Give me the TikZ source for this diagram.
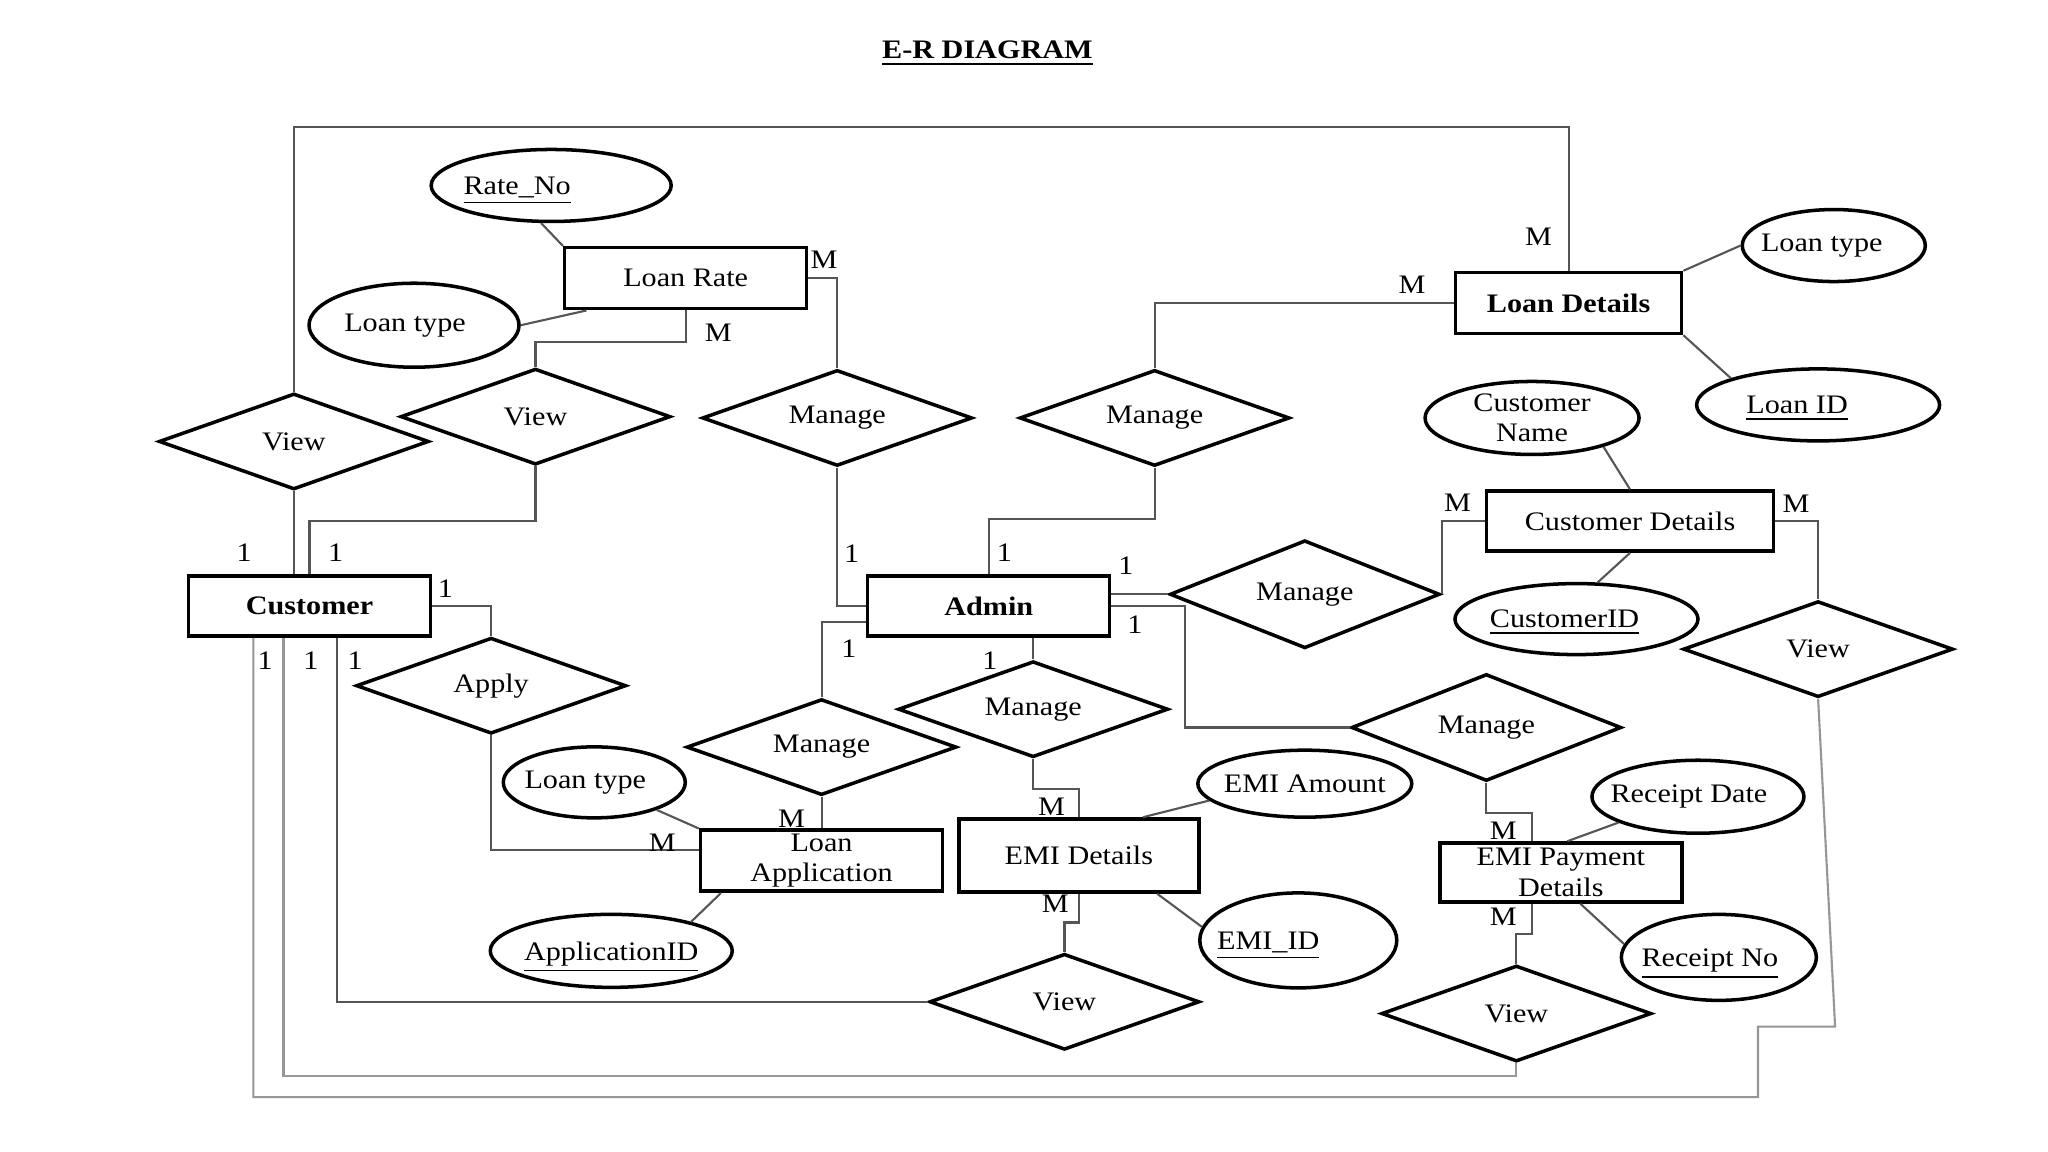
\documentclass[tikz,border=0pt]{standalone}
\usepackage{fontspec}
\setmainfont{Liberation Serif}[FakeStretch=1.13]
\usepackage{tikz}
\usetikzlibrary{shapes.geometric, calc}
\definecolor{erLine}{RGB}{85,85,85}
\definecolor{erFaint}{RGB}{150,150,150}
\tikzset{
    base/.style={
        font=\fontsize{7.6}{8.6}\selectfont,
        align=center,
        inner sep=0pt
    },
    entity/.style={
        base,
        rectangle,
        draw,
        line width=1pt,
        minimum width=2.42cm,
        minimum height=0.61cm
    },
    attrib/.style={
        base,
        ellipse,
        draw,
        line width=1pt,
        inner sep=-1.5pt,
        minimum width=2.1cm,
        minimum height=0.72cm
    },
    relation/.style={
        base,
        diamond,
        draw,
        line width=1pt,
        aspect=2.8,
        minimum width=2.7cm,
        minimum height=0.96cm
    },
    link/.style={
        draw=erLine,
        line width=0.6pt
    },
    faint/.style={
        draw=erFaint,
        line width=0.6pt
    },
    card/.style={
        base
    }
}
\newcommand{\erkey}[1]{\raisebox{0pt}[\height][0pt]{\underline{#1}}}
\newcommand{\erleft}[2]{\makebox[0pt]{#2\hspace*{#1}}}

\begin{document}
\begin{tikzpicture}[x=0.01306cm, y=-0.01306cm]
  \useasboundingbox (0,0) rectangle (1568,882);
  \fill[white] (0,0) rectangle (1568,882);

  % Title
  \node[base] (title) at (756,41) {\textbf{\underline{E-R DIAGRAM}}};

  % Entities
  \node[entity] (lrate) at (525,213) {Loan Rate};
  \node[entity, minimum width=2.26cm] (ldet) at (1201,232) {\textbf{Loan Details}};
  \node[entity, minimum width=2.87cm, minimum height=0.6cm] (cdet) at (1248,399) {Customer Details};
  \node[entity, minimum height=0.6cm] (cust) at (237,464) {\textbf{Customer}};
  \node[entity, minimum height=0.6cm] (admin) at (757,464) {\textbf{Admin}};
  \node[entity] (lapp) at (629,659) {Loan\\Application};
  \node[entity, minimum width=2.4cm, minimum height=0.73cm] (emi) at (826,655) {EMI Details};
  \node[entity, minimum height=0.59cm] (epay) at (1195,668) {EMI Payment\\Details};

  % Attributes
  \node[attrib, minimum width=2.4cm] (rateno) at (422,142) {\erleft{0.68cm}{\erkey{Rate\_No}}};
  \node[attrib, minimum height=0.84cm] (ltr) at (317,249) {\erleft{0.18cm}{Loan type}};
  \node[attrib, minimum width=1.83cm] (ltd) at (1404,188) {\erleft{0.24cm}{Loan type}};
  \node[attrib, minimum width=2.43cm] (lid) at (1392,310) {\erleft{0.42cm}{\erkey{Loan ID}}};
  \node[attrib, minimum width=2.14cm, minimum height=0.73cm] (cname) at (1173,320) {Customer\\Name};
  \node[attrib, minimum width=2.43cm, minimum height=0.71cm] (cid) at (1207,474) {\erleft{0.24cm}{\erkey{CustomerID}}};
  \node[attrib, minimum width=1.82cm, minimum height=0.71cm] (lta) at (455,599) {\erleft{0.18cm}{Loan type}};
  \node[attrib, minimum width=2.42cm, minimum height=0.73cm] (aid) at (468,728) {\erkey{ApplicationID}};
  \node[attrib, minimum width=2.12cm, minimum height=0.67cm] (eamt) at (999,600) {EMI Amount};
  \node[attrib, minimum width=1.97cm, minimum height=0.95cm] (eid) at (994,720) {\erleft{0.6cm}{\erkey{EMI\_ID}}};
  \node[attrib, minimum width=2.12cm, minimum height=0.73cm] (rdate) at (1300,610) {\erleft{0.18cm}{Receipt Date}};
  \node[attrib, minimum width=1.95cm, minimum height=0.86cm] (rcpt) at (1316,733) {\erleft{0.18cm}{\erkey{Receipt No}}};

  % Relationships
  \node[relation] (vleft) at (225,338) {View};
  \node[relation] (vlr) at (410,319) {View};
  \node[relation] (mlr) at (641,320) {Manage};
  \node[relation] (mld) at (884,320) {Manage};
  \node[relation, minimum height=1.08cm] (mcd) at (999,455) {Manage};
  \node[relation] (vcd) at (1392,497) {View};
  \node[relation] (apply) at (376,525) {Apply};
  \node[relation] (mla) at (629,572) {Manage};
  \node[relation] (mem) at (791,543) {Manage};
  \node[relation, minimum height=1.07cm] (mep) at (1138,557) {Manage};
  \node[relation] (vem) at (815,767) {View};
  \node[relation] (vep) at (1161,776) {View};

  % Attribute links
  \draw[link] (rateno.255) -- (lrate.north west);
  \draw[link] (ltr.east) -- ($(lrate.south west)+(18,0)$);
  \draw[link] (ldet.north east) -- (ltd.west);
  \draw[link] (ldet.south east) -- (lid.163);
  \draw[link] (cname.-22) -- (cdet.north);
  \draw[link] (cdet.south) -- (cid.60);
  \draw[link] (lta) -- (lapp.north west);
  \draw[link] ($(lapp.south west)+(17,0)$) -- (aid.20);
  \draw[link] (eamt.190) -- ($(emi.north)+(49,0)$);
  \draw[link] ($(emi.south)+(60,0)$) -- (eid.172);
  \draw[link] (rdate.198) -- ($(epay.north)+(5,0)$);
  \draw[link] ($(epay.south)+(15,0)$) -- (rcpt.172);

  % Relationship links
  \coordinate (loopTop) at (700,97);
  \draw[link] (vleft.north) |- (loopTop) -| (ldet.north);
  \draw[link] (lrate.south) -- ++(0,24) -| (vlr.north);
  \draw[link] (lrate.east) -| (mlr.north);
  \draw[link] (vleft.south) -- (vleft.south |- cust.north);
  \draw[link] (vlr.south) -- ++(0,42) -| (cust.north);
  \draw[link] (cust.east) -| (apply.north);
  \draw[link] (apply.south) |- ($(lapp.west)+(0,-8)$);
  \draw[link] (mlr.south) |- (admin.west);
  \draw[link] ($(admin.west)+(0,12)$) -| (mla.north);
  \draw[link] (mla.south) -- (lapp.north);
  \draw[link] (admin.north) -- ++(0,-42) -| (mld.south);
  \draw[link] (mld.north) |- (ldet.west);
  \draw[link] (admin.east |- mcd.west) -- (mcd.west);
  \draw[link] (admin.east) -- ++(56,0) |- (mep.west);
  \draw[link] (mem.north |- admin.south) -- (mem.north);
  \draw[link] (mem.south) -- ++(0,23) -| (emi.north);
  \draw[link] (emi.south) -- ++(0,22) -| (vem.north);
  \draw[link] (mcd.east) |- (cdet.west);
  \draw[link] (cdet.east) -| (vcd.north);
  \draw[link] (mep.south) -- ++(0,23) -| ($(epay.north)+(-22,0)$);
  \draw[link] ($(epay.south)+(-22,0)$) -- ++(0,23) -| (vep.north);
  \draw[link] (vem.west) -| ($(cust.south west)+(115,0)$);

  % Long return lines
  \coordinate (rightA) at (1405,786);
  \coordinate (rightB) at (1346,840);
  \draw[faint] (vcd.south) -- (rightA) -| (rightB) -| ($(cust.south west)+(51,0)$);
  \draw[faint] (vep.south) -- ++(0,10) -| ($(cust.south west)+(74,0)$);

  % Cardinalities
  \foreach \pos/\txt [count=\i] in {{1178,181}/M, {1081,218}/M, {631,199}/M, {550,255}/M,
      {187,423}/1, {257,423}/1, {341,451}/1, {203,506}/1, {238,506}/1, {272,506}/1,
      {507,645}/M, {606,627}/M, {652,424}/1, {650,497}/1, {769,423}/1, {862,433}/1,
      {869,478}/1, {758,506}/1, {805,618}/M, {808,692}/M, {1116,385}/M, {1375,386}/M,
      {1151,636}/M, {1151,702}/M}
    \node[card] (card\i) at (\pos) {\txt};
\end{tikzpicture}
\end{document}
